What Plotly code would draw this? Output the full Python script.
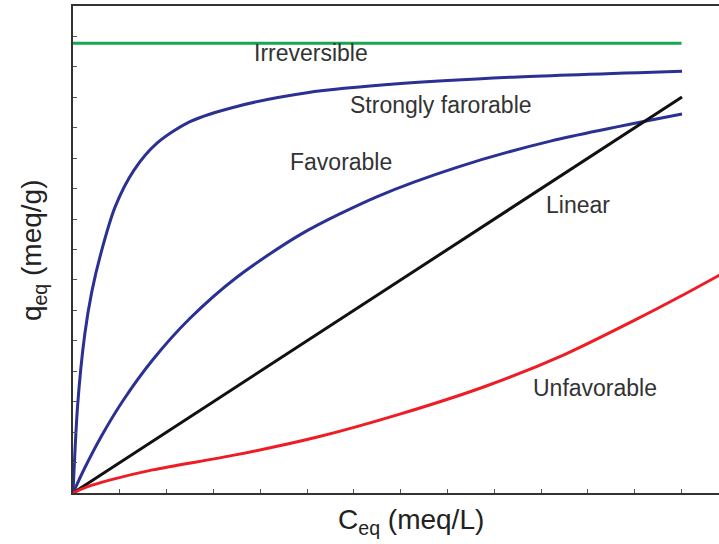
import plotly.graph_objects as go

# Data (x in C_eq units, y in q_eq units)
irr_x = [0.0, 13.0]
irr_y = [14.78, 14.78]

strong_x = [0.0, 0.1, 0.25, 0.4, 0.6, 0.9, 1.3, 1.8, 2.5, 3.5, 5.0, 7.0, 9.5, 13.01]
strong_y = [0.0, 2.9, 5.2, 6.6, 7.9, 9.4, 10.6, 11.5, 12.2, 12.7, 13.15, 13.45, 13.67, 13.86]

fav_x = [0.0, 0.25, 0.6, 1.07, 1.7, 2.5, 3.5, 4.9, 6.5, 8.2, 10.2, 13.01]
fav_y = [0.0, 0.82, 1.85, 3.04, 4.37, 5.74, 7.09, 8.53, 9.74, 10.70, 11.56, 12.45]

lin_x = [0.0, 13.01]
lin_y = [0.0, 13.01]

unf_x = [0.0, 0.3, 0.8, 1.7, 3.5, 5.2, 7.0, 8.8, 10.5, 12.0, 13.0, 14.0]
unf_y = [0.0, 0.2, 0.43, 0.76, 1.26, 1.83, 2.6, 3.5, 4.55, 5.68, 6.48, 7.32]

labels = ["Irreversible", "Strongly farorable", "Favorable", "Linear", "Unfavorable"]
label_x = [5.09, 7.86, 5.73, 10.79, 11.15]
label_y = [14.45, 12.75, 10.87, 9.46, 3.45]

fig = go.Figure()
lw = 3
fig.add_trace(go.Scatter(x=irr_x, y=irr_y, mode="lines", line=dict(color="#16a84e", width=lw)))
fig.add_trace(go.Scatter(x=strong_x, y=strong_y, mode="lines",
                         line=dict(color="#2b3093", width=lw, shape="spline", smoothing=0.8)))
fig.add_trace(go.Scatter(x=fav_x, y=fav_y, mode="lines",
                         line=dict(color="#2b3093", width=lw, shape="spline", smoothing=0.8)))
fig.add_trace(go.Scatter(x=lin_x, y=lin_y, mode="lines", line=dict(color="#111111", width=lw)))
fig.add_trace(go.Scatter(x=unf_x, y=unf_y, mode="lines",
                         line=dict(color="#ee1c25", width=lw, shape="spline", smoothing=0.8)))

for t, x, y in zip(labels, label_x, label_y):
    fig.add_annotation(x=x, y=y, xref="x", yref="y", text=t, showarrow=False,
                       font=dict(family="Liberation Sans, Arial", size=23, color="#333333"),
                       xanchor="center", yanchor="middle")

fig.add_annotation(x=7.22, y=-0.0595, xref="x", yref="paper", text="C<sub>eq</sub> (meq/L)",
                   showarrow=False, font=dict(family="Liberation Sans, Arial", size=28, color="#222222"),
                   xanchor="center", yanchor="middle")
fig.add_annotation(x=-0.0619, y=7.98, xref="paper", yref="y", text="q<sub>eq</sub> (meq/g)",
                   showarrow=False, textangle=-90,
                   font=dict(family="Liberation Sans, Arial", size=28, color="#222222"),
                   xanchor="center", yanchor="middle")

fig.update_layout(
    width=719, height=544,
    margin=dict(l=73, r=0, t=6, b=51),
    paper_bgcolor="white", plot_bgcolor="white",
    showlegend=False,
)
fig.update_xaxes(range=[0, 13.8], showgrid=False, zeroline=False, showline=True,
                 linecolor="#333333", linewidth=2, mirror=True,
                 ticks="inside", tickmode="linear", tick0=0, dtick=1, ticklen=4,
                 tickcolor="#555555", showticklabels=False)
fig.update_yaxes(range=[0, 16], showgrid=False, zeroline=False, showline=True,
                 linecolor="#333333", linewidth=2, mirror=False,
                 ticks="inside", tickmode="linear", tick0=0, dtick=1, ticklen=4,
                 tickcolor="#555555", showticklabels=False)

fig.write_html("out.html", config={"displayModeBar": False},
               post_script="document.body.style.margin='0px';document.body.style.padding='0px';")
